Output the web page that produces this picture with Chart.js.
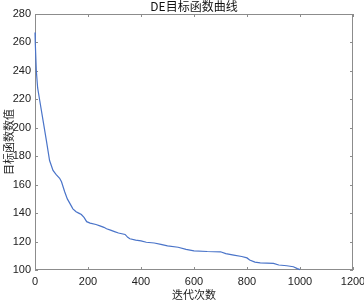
<!DOCTYPE html>
<html>
<head>
<meta charset="utf-8">
<script src="https://cdn.jsdelivr.net/npm/chart.js@4/dist/chart.umd.min.js"></script>
<style>
  html, body { margin: 0; padding: 0; background: #fff; }
  #wrap { width: 364px; height: 302px; }
</style>
</head>
<body>
<div id="wrap"><canvas id="curve"></canvas></div>
<script>
// iterations and objective value
const iters = [0, 1, 5, 10, 18, 30, 43, 55, 68, 80, 93, 100, 112, 122, 131, 143, 155, 165, 175, 185,
  195, 208, 230, 245, 260, 270, 285, 300, 315, 340, 350, 358, 380, 400, 420, 450, 475, 500, 540, 570,
  600, 650, 700, 720, 750, 780, 800, 810, 830, 850, 900, 920, 950, 975, 990, 1000];
const values = [267, 260, 240, 228, 219, 205.5, 191, 177, 170, 167, 164.5, 162, 155, 150, 147, 143, 141, 140, 139, 137,
  134, 133, 132, 131, 130, 129, 128, 127, 126, 125, 123, 122, 121, 120.5, 119.5, 119, 118, 117, 116, 114.5,
  113.5, 113, 112.8, 111.5, 110.5, 109.5, 108.5, 107, 105.5, 105, 104.7, 103.5, 103, 102.3, 101, 100.3];
const xTicks = [0, 200, 400, 600, 800, 1000, 1200];
const yTicks = [100, 120, 140, 160, 180, 200, 220, 240, 260, 280];

const cjk = '"Noto Sans CJK SC", "Liberation Sans", sans-serif';

// matlab style box with inward ticks on all four sides, plus the title
// drawn under the line so the curve stays visible on the left edge
const boxPlugin = {
  id: "box",
  beforeDatasetsDraw(chart) {
    const { ctx, chartArea: a, scales } = chart;
    ctx.save();
    ctx.strokeStyle = "#8c8c8c";
    ctx.lineWidth = 1;
    ctx.strokeRect(a.left + 0.5, a.top + 0.5, a.right - a.left - 1, a.bottom - a.top - 1);
    ctx.beginPath();
    xTicks.forEach((v) => {
      const px = Math.round(scales.x.getPixelForValue(v)) + 0.5;
      ctx.moveTo(px, a.bottom); ctx.lineTo(px, a.bottom - 3);
      ctx.moveTo(px, a.top); ctx.lineTo(px, a.top + 3);
    });
    yTicks.forEach((v) => {
      const py = Math.round(scales.y.getPixelForValue(v)) + 0.5;
      ctx.moveTo(a.left, py); ctx.lineTo(a.left + 3, py);
      ctx.moveTo(a.right, py); ctx.lineTo(a.right - 3, py);
    });
    ctx.stroke();
    ctx.fillStyle = "#111";
    ctx.font = "12px " + cjk;
    ctx.textAlign = "center";
    ctx.textBaseline = "middle";
    ctx.fillText("DE目标函数曲线", (a.left + a.right) / 2, 6);
    ctx.restore();
  }
};

new Chart(document.getElementById("curve"), {
  type: "line",
  data: {
    datasets: [
      {
        data: iters.map((x, i) => ({ x: x, y: values[i] })),
        borderColor: "#4a74c9",
        borderWidth: 1.2,
        pointRadius: 0,
        tension: 0,
        fill: false,
        clip: 3,
      },
    ],
  },
  options: {
    responsive: true,
    maintainAspectRatio: false,
    animation: false,
    layout: { padding: { top: 14, right: 11, left: 0, bottom: 0 } },
    plugins: { legend: { display: false }, tooltip: { enabled: false } },
    scales: {
      x: {
        type: "linear",
        min: 0,
        max: 1200,
        grid: { display: false, drawTicks: false },
        border: { display: false },
        ticks: {
          stepSize: 200, padding: 5, color: "#222", maxRotation: 0,
          font: { size: 11, family: "Liberation Sans" },
          callback: (v) => String(v),
        },
        title: { display: true, text: "迭代次数", color: "#222", font: { size: 11, family: cjk }, padding: { top: 0, bottom: 1 } },
        afterFit(s) { s.height = 32; s.paddingLeft = 0; s.paddingRight = 0; },
      },
      y: {
        min: 100,
        max: 280,
        grid: { display: false, drawTicks: false },
        border: { display: false },
        ticks: {
          stepSize: 20, padding: 4, color: "#222",
          font: { size: 11, family: "Liberation Sans" },
          callback: (v) => String(v),
        },
        title: { display: true, text: "目标函数数值", color: "#222", font: { size: 11, family: cjk }, padding: { top: 2, bottom: 0 } },
        afterFit(s) { s.width = 35; s.paddingTop = 0; s.paddingBottom = 0; },
      },
    },
  },
  plugins: [boxPlugin],
});
</script>
</body>
</html>
